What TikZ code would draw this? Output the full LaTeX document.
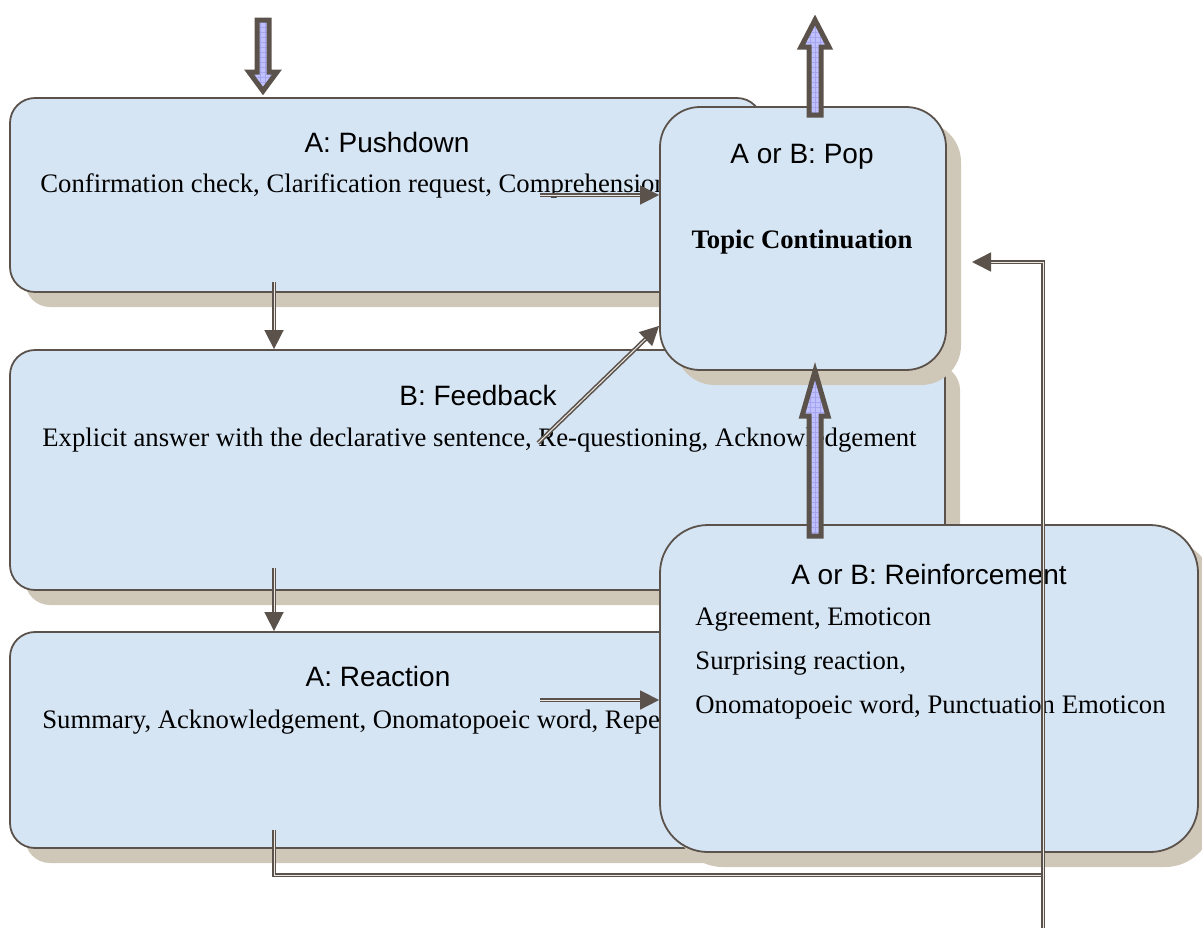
\documentclass[tikz,border=0pt]{standalone}
\usepackage{fontspec}
\setmainfont{Liberation Serif}
\newfontfamily\headfont{Liberation Sans}
\usetikzlibrary{arrows.meta,fit,shadows,patterns.meta,calc}
\definecolor{boxfill}{RGB}{214,229,244}
\definecolor{shadowclr}{RGB}{207,199,184}
\definecolor{lineclr}{RGB}{91,83,75}
\definecolor{arrowfill}{RGB}{192,192,255}
\definecolor{gridclr}{RGB}{165,165,238}
\begin{document}
\begin{tikzpicture}[x=0.5pt,y=-0.5pt,
	box/.style={draw=lineclr,line width=0.9pt,fill=boxfill,inner sep=0pt,
		drop shadow={shadow xshift=7.5pt,shadow yshift=-7.5pt,fill=shadowclr,opacity=1}},
	title/.style={font=\headfont\fontsize{14}{17}\selectfont,anchor=base},
	body/.style={font=\fontsize{13.35}{16}\selectfont,anchor=base west,inner sep=0pt},
	dbl/.style={draw=lineclr,double={rgb,255:red,235;green,232;blue,228},double distance=0.5pt,line width=0.8pt},
	dblarrow/.style={dbl,-{Triangle[length=9.5pt,width=9.5pt]}},
	blockarrow/.style={draw=lineclr,line width=2.5pt,line join=miter,preaction={fill=arrowfill},
		pattern={Hatch[angle=0,distance=2.5pt,line width=0.3pt]},pattern color=gridclr}]
	\useasboundingbox (0,0) rectangle (1202,927);
	%Left column
	\node[box,rounded corners=12.5pt,fit={(10,98) (762,292)}] (pushdown) {};
	\node[title] (pushtitle) at (387,152) {A: Pushdown};
	\node[body] (pushtext) at (40,192) {Confirmation check, Clarification request, Comprehension};
	\node[box,rounded corners=12.5pt,fit={(10,350) (945,590)}] (feedback) {};
	\node[title] (fbtitle) at (478,405) {B: Feedback};
	\node[body] (fbtext) at (42,446) {Explicit answer with the declarative sentence, Re-questioning, Acknowledgement};
	\node[box,rounded corners=12.5pt,fit={(10,632) (760,848)}] (reaction) {};
	\node[title] (rctitle) at (378,686) {A: Reaction};
	\node[body] (rctext) at (42,728) {Summary, Acknowledgement, Onomatopoeic word, Repe};
	%Right column
	\node[box,rounded corners=20pt,fit={(660,107) (946,370)}] (pop) {};
	\node[title] (poptitle) at (802,163) {A or B: Pop};
	\node[font=\bfseries\fontsize{13.35}{16}\selectfont,anchor=base] (poptext) at (802,248) {Topic Continuation};
	\node[box,rounded corners=24pt,fit={(660,525) (1198,852)}] (reinforce) {};
	\node[title] (retitle) at (929,584) {A or B: Reinforcement};
	\node[body] (retext1) at (695,625) {Agreement, Emoticon};
	\node[body] (retext2) at (695,669) {Surprising reaction,};
	\node[body] (retext3) at (695,713) {Onomatopoeic word, Punctuation Emoticon};
	%Block arrows
	\coordinate (intop) at (263,20);
	\coordinate (popup) at (815,115);
	\coordinate (reup) at (815,536);
	\draw[blockarrow] (intop) ++(-6,0) -- ++(0,52) -- ++(-8,0) -- ++(14,19) -- ++(14,-19) -- ++(-8,0) -- ++(0,-52) -- cycle;
	\draw[blockarrow] (popup) ++(-6,0) -- ++(0,-68) -- ++(-8,0) -- ++(14,-27) -- ++(14,27) -- ++(-8,0) -- ++(0,68) -- cycle;
	\draw[blockarrow] (reup) ++(-6,0) -- ++(0,-120) -- ++(-7,0) -- ++(13,-45) -- ++(13,45) -- ++(-7,0) -- ++(0,120) -- cycle;
	%Double line connectors
	\coordinate (pdout) at (274,282);
	\coordinate (fbout) at (274,568);
	\coordinate (rcout) at (274,830);
	\coordinate (pdside) at (540,195);
	\coordinate (fbside) at (538,443);
	\coordinate (rcside) at (540,700);
	\coordinate (join) at (1043,875);
	\coordinate (loopin) at (1043,930);
	\coordinate (popin) at (972,262);
	\draw[dblarrow] (pdout) -- (pdout |- feedback.north);
	\draw[dblarrow] (fbout) -- (fbout |- reaction.north);
	\draw[dblarrow] (pdside) -- (pdside -| pop.west);
	\draw[dblarrow] (fbside) -- ($(pop.south west)+(0,-45)$);
	\draw[dblarrow] (rcside) -- (rcside -| reinforce.west);
	\draw[dbl] (rcout) |- (join);
	\draw[dblarrow] (loopin) |- (popin);
\end{tikzpicture}
\end{document}
